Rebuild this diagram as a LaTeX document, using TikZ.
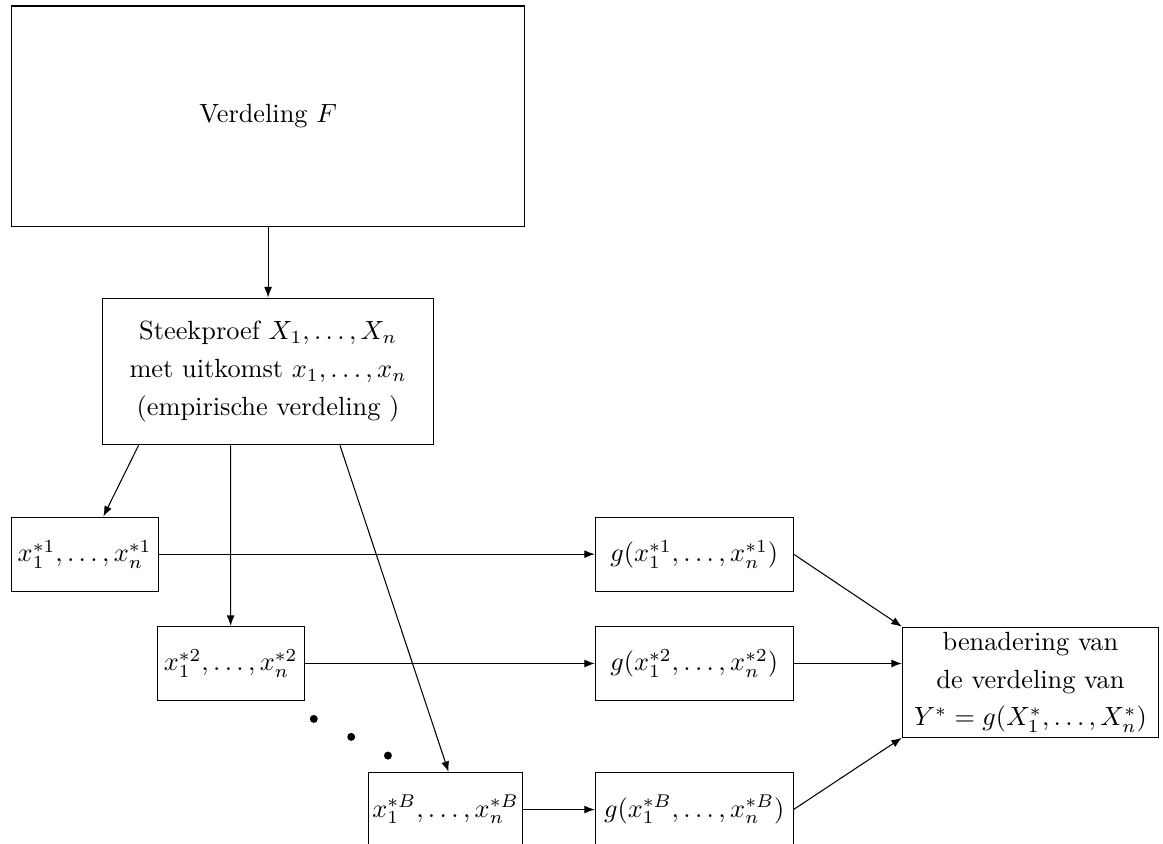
\documentclass[tikz,border=0pt]{standalone}
\usetikzlibrary{arrows.meta}
\begin{document}
\begin{tikzpicture}[>={Latex[length=4pt,width=3pt]},
	box/.style={draw,inner sep=2.5pt,minimum height=0.99cm},
	gbox/.style={box,minimum width=2.64cm},
	lines/.style={align=center,font=\linespread{1.2}\selectfont}]
%\draw[gray,help lines,dashed] (0,-12) grid (16,0);
\useasboundingbox (0,0) rectangle (15.53,-11.27);
\node[box,minimum width=6.85cm,minimum height=2.94cm] (F) at (3.58,-1.55) {Verdeling \(F\)};
\node[box,lines,minimum width=4.42cm,minimum height=1.96cm] (S) at (3.58,-4.96)
	{Steekproef \(X_1,\ldots,X_n\)\\ met uitkomst \(x_1,\ldots,x_n\)\\ (empirische verdeling )};
\node[box] (x1) at (1.13,-7.40) {\(x_1^{*1},\ldots,x_n^{*1}\)};
\node[box] (x2) at (3.08,-8.86) {\(x_1^{*2},\ldots,x_n^{*2}\)};
\node[box,inner sep=1.5pt] (xB) at (5.95,-10.81) {\(x_1^{*B},\ldots,x_n^{*B}\)};
\node[gbox] (g1) at (9.27,-7.40) {\(g(x_1^{*1},\ldots,x_n^{*1})\)};
\node[gbox] (g2) at (9.27,-8.86) {\(g(x_1^{*2},\ldots,x_n^{*2})\)};
\node[gbox] (gB) at (9.27,-10.81) {\(g(x_1^{*B},\ldots,x_n^{*B})\)};
\node[box,lines,inner sep=1.5pt,minimum width=3.42cm,minimum height=1.47cm] (Y) at (13.76,-9.11)
	{benadering van\\ de verdeling van\\ \(Y^*=g(X_1^*,\ldots,X_n^*)\)};
\draw[->] (F) -- (S);
\draw[->] ([xshift=-1.73cm]S.south) -- ([xshift=0.25cm]x1.north);
\draw[->] ([xshift=-0.50cm]S.south) -- (x2.north);
\draw[->] ([xshift=0.96cm]S.south) -- ([xshift=0.04cm]xB.north);
\draw[->] (x1) -- (g1);
\draw[->] (x2) -- (g2);
\draw[->] (xB) -- (gB);
\draw[->] (g1.east) -- (Y.north west);
\draw[->] (g2.east) -- (g2.east -| Y.west);
\draw[->] (gB.east) -- (Y.south west);
\fill (4.19,-9.60) circle (0.053) (4.69,-9.84) circle (0.053) (5.18,-10.09) circle (0.053); % dots
\end{tikzpicture}
\end{document}
